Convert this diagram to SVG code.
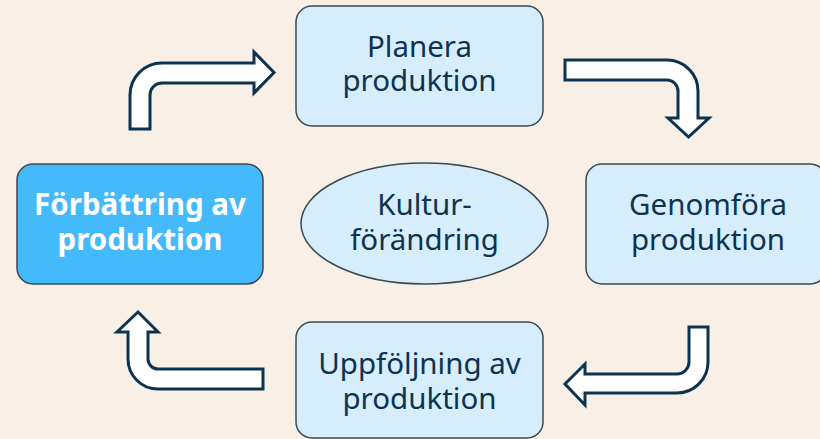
<svg xmlns="http://www.w3.org/2000/svg" width="820" height="439" viewBox="0 0 820 439">
<style>
.bg{fill:#f8f0e7}
.box{fill:#d6edfc;stroke:#3b4852;stroke-width:1.5}
.hl{fill:#44b9fc;stroke:#3b4852;stroke-width:1.5}
.t{font-family:"Noto Sans","Open Sans",sans-serif;font-size:29.5px;fill:#0e3350;text-anchor:middle}
.tb{font-family:"Noto Sans","Open Sans",sans-serif;font-size:29.5px;font-weight:bold;fill:#ffffff;text-anchor:middle}
.arr{fill:#ffffff;stroke:#0c3450;stroke-width:3;stroke-linejoin:miter}
</style>
<rect class="bg" x="0" y="0" width="820" height="439"/>
<g id="connectors">
<path class="arr" d="M130,129 L130,95 A32,32 0 0 1 162,63 L254,63 L254,52 L274,72.5 L254,93 L254,83 L162,83 A12,12 0 0 0 150,95 L150,129 Z"/>
<path class="arr" d="M565,60 L667,60 A31,31 0 0 1 698,91 L698,118 L709,118 L688.5,137 L668,118 L678,118 L678,91 A11,11 0 0 0 667,80 L565,80 Z"/>
<path class="arr" d="M708,327 L708,362 A31,31 0 0 1 677,393 L585,393 L585,405 L565,384 L585,364 L585,374 L677,374 A12,12 0 0 0 689,362 L689,327 Z"/>
<path class="arr" d="M263,369 L263,389 L158,389 A30,30 0 0 1 128,359 L128,332 L117,332 L138,312 L158,332 L148,332 L148,359 A10,10 0 0 0 158,369 Z"/>
</g>
<g id="planera">
<rect class="box" x="296" y="6" width="247" height="120" rx="16"/>
<text class="t" x="419.5" y="57">Planera</text>
<text class="t" x="419.5" y="91">produktion</text>
</g>
<g id="genomfora">
<rect class="box" x="586" y="164" width="240" height="120" rx="16"/>
<text class="t" x="708" y="215">Genomföra</text>
<text class="t" x="708" y="250">produktion</text>
</g>
<g id="uppfoljning">
<rect class="box" x="296" y="322" width="247" height="116" rx="16"/>
<text class="t" x="419.5" y="374">Uppföljning av</text>
<text class="t" x="419.5" y="409">produktion</text>
</g>
<g id="forbattring">
<rect class="hl" x="17" y="164" width="246" height="120" rx="16"/>
<text class="tb" x="140" y="215">Förbättring av</text>
<text class="tb" x="140" y="250">produktion</text>
</g>
<g id="kultur">
<ellipse class="box" cx="424.5" cy="223.5" rx="123.5" ry="60.5" stroke-width="1"/>
<text class="t" x="424.5" y="215">Kultur-</text>
<text class="t" x="424.5" y="250">förändring</text>
</g>
</svg>
